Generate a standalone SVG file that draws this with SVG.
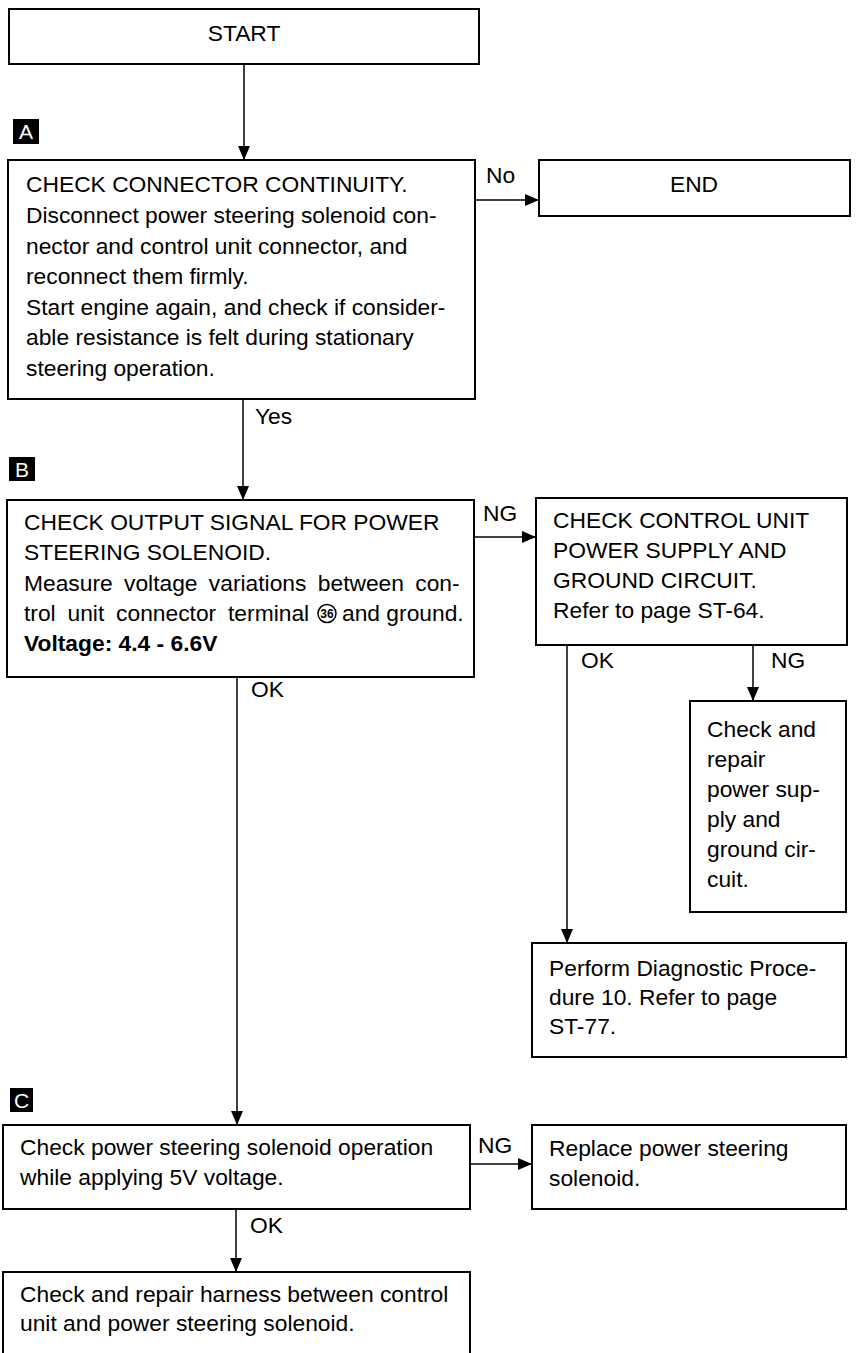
<svg xmlns="http://www.w3.org/2000/svg" width="856" height="1353" viewBox="0 0 856 1353">
<style>
  .box { fill: #fff; stroke: #000; stroke-width: 2; }
  .t { font-family: "Liberation Sans", Arial, sans-serif; font-size: 22.8px; fill: #000; }
  .b { font-weight: bold; }
  .lbl { fill: #000; }
  .lt { font-family: "Liberation Sans", Arial, sans-serif; font-size: 21px; fill: #fff; text-anchor: middle; }
  .c { fill: none; stroke: #000; stroke-width: 1.5; }
</style>
<defs>
  <marker id="ah" markerUnits="userSpaceOnUse" markerWidth="14" markerHeight="14" viewBox="0 0 14 14" refX="14" refY="7" orient="auto">
    <path d="M0,1 L14,7 L0,13 Z" fill="#000"/>
  </marker>
</defs>
<rect width="856" height="1353" fill="#fff"/>

<g id="connectors">
  <line class="c" x1="244" y1="64" x2="244" y2="160" marker-end="url(#ah)"/>
  <line class="c" x1="475" y1="200" x2="539" y2="200" marker-end="url(#ah)"/>
  <line class="c" x1="243" y1="399" x2="243" y2="500" marker-end="url(#ah)"/>
  <line class="c" x1="474" y1="537" x2="536" y2="537" marker-end="url(#ah)"/>
  <line class="c" x1="567" y1="645" x2="567" y2="943" marker-end="url(#ah)"/>
  <line class="c" x1="753" y1="645" x2="753" y2="701" marker-end="url(#ah)"/>
  <line class="c" x1="237" y1="677" x2="237" y2="1125" marker-end="url(#ah)"/>
  <line class="c" x1="470" y1="1164" x2="532" y2="1164" marker-end="url(#ah)"/>
  <line class="c" x1="236" y1="1209" x2="236" y2="1272" marker-end="url(#ah)"/>
  <text class="t" x="486" y="183">No</text>
  <text class="t" x="255" y="424">Yes</text>
  <text class="t" x="483" y="521">NG</text>
  <text class="t" x="581" y="668">OK</text>
  <text class="t" x="771" y="668">NG</text>
  <text class="t" x="251" y="697">OK</text>
  <text class="t" x="478" y="1153">NG</text>
  <text class="t" x="250" y="1233">OK</text>
</g>

<g id="label-A">
  <rect class="lbl" x="13" y="119" width="26" height="25"/>
  <text class="lt" x="26" y="139">A</text>
</g>
<g id="label-B">
  <rect class="lbl" x="9" y="457" width="26" height="24"/>
  <text class="lt" x="22" y="477">B</text>
</g>
<g id="label-C">
  <rect class="lbl" x="10" y="1088" width="23" height="24"/>
  <text class="lt" x="21.5" y="1108">C</text>
</g>

<g id="start">
  <rect class="box" x="9" y="9" width="470" height="55"/>
  <text class="t" x="244" y="41" text-anchor="middle">START</text>
</g>

<g id="check-connector">
  <rect class="box" x="8" y="160" width="467" height="239"/>
  <text class="t" x="26" y="192">CHECK CONNECTOR CONTINUITY.</text>
  <text class="t" x="26" y="223">Disconnect power steering solenoid con-</text>
  <text class="t" x="26" y="254">nector and control unit connector, and</text>
  <text class="t" x="26" y="284">reconnect them firmly.</text>
  <text class="t" x="26" y="315">Start engine again, and check if consider-</text>
  <text class="t" x="26" y="345">able resistance is felt during stationary</text>
  <text class="t" x="26" y="376">steering operation.</text>
</g>

<g id="end">
  <rect class="box" x="539" y="160" width="311" height="56"/>
  <text class="t" x="694" y="192" text-anchor="middle">END</text>
</g>

<g id="check-output">
  <rect class="box" x="7" y="500" width="467" height="177"/>
  <text class="t" x="24" y="530">CHECK OUTPUT SIGNAL FOR POWER</text>
  <text class="t" x="24" y="560">STEERING SOLENOID.</text>
  <text class="t" x="24" y="591" style="word-spacing:5px">Measure voltage variations between con-</text>
  <text class="t" x="24" y="621" style="word-spacing:5.5px">trol unit connector terminal</text>
  <circle cx="327" cy="613.5" r="9" fill="none" stroke="#000" stroke-width="1.5"/>
  <text class="t b" x="327" y="618" text-anchor="middle" style="font-size:12px">36</text>
  <text class="t" x="342" y="621">and ground.</text>
  <text class="t b" x="24" y="651">Voltage: 4.4 - 6.6V</text>
</g>

<g id="check-control-unit">
  <rect class="box" x="536" y="498" width="311" height="147"/>
  <text class="t" x="553" y="528">CHECK CONTROL UNIT</text>
  <text class="t" x="553" y="558">POWER SUPPLY AND</text>
  <text class="t" x="553" y="588">GROUND CIRCUIT.</text>
  <text class="t" x="553" y="618">Refer to page ST-64.</text>
</g>

<g id="repair-power">
  <rect class="box" x="690" y="701" width="156" height="211"/>
  <text class="t" x="707" y="737">Check and</text>
  <text class="t" x="707" y="767">repair</text>
  <text class="t" x="707" y="797">power sup-</text>
  <text class="t" x="707" y="827">ply and</text>
  <text class="t" x="707" y="857">ground cir-</text>
  <text class="t" x="707" y="887">cuit.</text>
</g>

<g id="perform-diagnostic">
  <rect class="box" x="532" y="943" width="314" height="114"/>
  <text class="t" x="549" y="976">Perform Diagnostic Proce-</text>
  <text class="t" x="549" y="1005">dure 10. Refer to page</text>
  <text class="t" x="549" y="1034">ST-77.</text>
</g>

<g id="check-solenoid">
  <rect class="box" x="3" y="1125" width="467" height="84"/>
  <text class="t" x="20" y="1155">Check power steering solenoid operation</text>
  <text class="t" x="20" y="1185">while applying 5V voltage.</text>
</g>

<g id="replace-solenoid">
  <rect class="box" x="532" y="1125" width="314" height="84"/>
  <text class="t" x="549" y="1156">Replace power steering</text>
  <text class="t" x="549" y="1186">solenoid.</text>
</g>

<g id="repair-harness">
  <rect class="box" x="3" y="1272" width="467" height="100"/>
  <text class="t" x="20" y="1302">Check and repair harness between control</text>
  <text class="t" x="20" y="1331">unit and power steering solenoid.</text>
</g>
</svg>
